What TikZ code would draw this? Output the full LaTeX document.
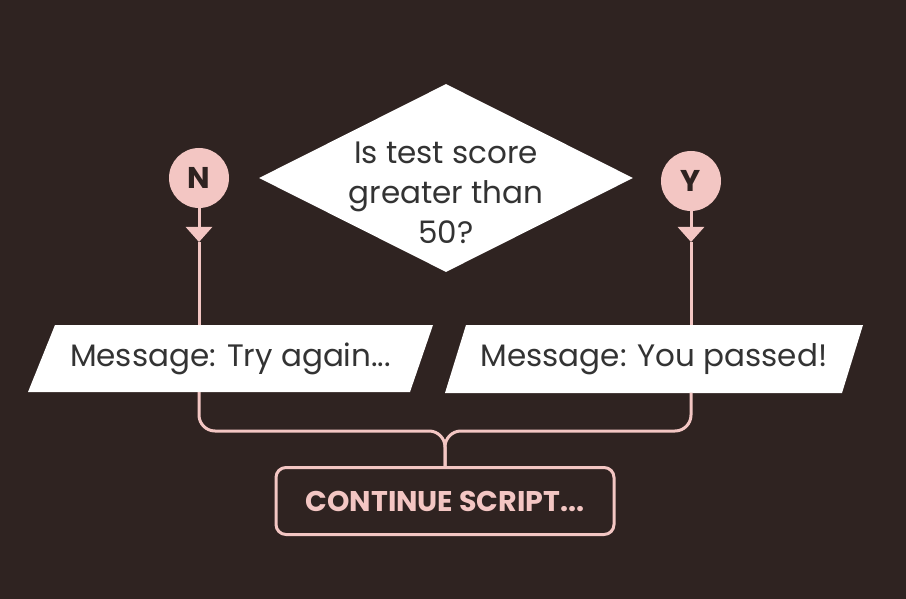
\documentclass[tikz,border=0pt]{standalone}
\usepackage{fontspec}
\setmainfont{Poppins}
\usetikzlibrary{shapes.geometric,arrows.meta}
\definecolor{bg}{HTML}{2F2321}
\definecolor{pinkc}{HTML}{F3C6C3}
\definecolor{ink}{HTML}{333333}
\begin{document}
\begin{tikzpicture}[x=1pt,y=-1pt,
  link/.style={draw=pinkc,line width=3pt},
  tip/.style={-{Triangle[width=26pt,length=15pt]}},
  badge/.style={circle,fill=pinkc,minimum size=60pt,inner sep=0pt,text=bg,font=\bfseries\fontsize{30}{30}\selectfont},
  msg/.style={rectangle,inner sep=0pt,minimum height=67pt,text=ink,font=\fontsize{31}{31}\selectfont}]
\fill[bg] (0,0) rectangle (906,599);
\useasboundingbox (0,0) rectangle (906,599);

\node[diamond,fill=white,minimum width=374pt,minimum height=188pt,inner sep=0pt] (dec) at (446,178) {};
\node[text=ink,align=center,font=\fontsize{31}{40}\selectfont] (q) at (446,193) {Is test score\\greater than\\50?};

\node[badge] (N) at (199,178) {N};
\node[badge] (Y) at (691,181) {Y};

% parallelogram backgrounds
\fill[white] (55,325) -- (433,325) -- (410,392) -- (28,392) -- cycle;
\fill[white] (466,325) -- (863,325) -- (842,393) -- (445,393) -- cycle;
\node[msg,minimum width=378pt] (try) at (230.5,358.5) {Message: Try again...};
\node[msg,minimum width=397pt] (pass) at (654,359) {Message: You passed!};

\node[draw=pinkc,line width=3pt,rounded corners=10pt,minimum width=338pt,minimum height=67pt,text=pinkc,font=\bfseries\fontsize{28.5}{28.5}\selectfont] (cont) at (445,501) {CONTINUE SCRIPT...};

\coordinate (nt) at (199,242);
\coordinate (yt) at (691,242);
\coordinate (jn) at (445,431);

\draw[link,tip] (N) -- (nt);
\draw[link] (nt) -- (N |- try.north);
\draw[link,tip] (Y) -- (yt);
\draw[link] (yt) -- (Y |- pass.north);

\draw[link,rounded corners=16pt] (N |- try.south) |- (jn) -- (cont.north);
\draw[link,rounded corners=16pt] (Y |- pass.south) |- (jn) -- (cont.north);
\end{tikzpicture}
\end{document}
